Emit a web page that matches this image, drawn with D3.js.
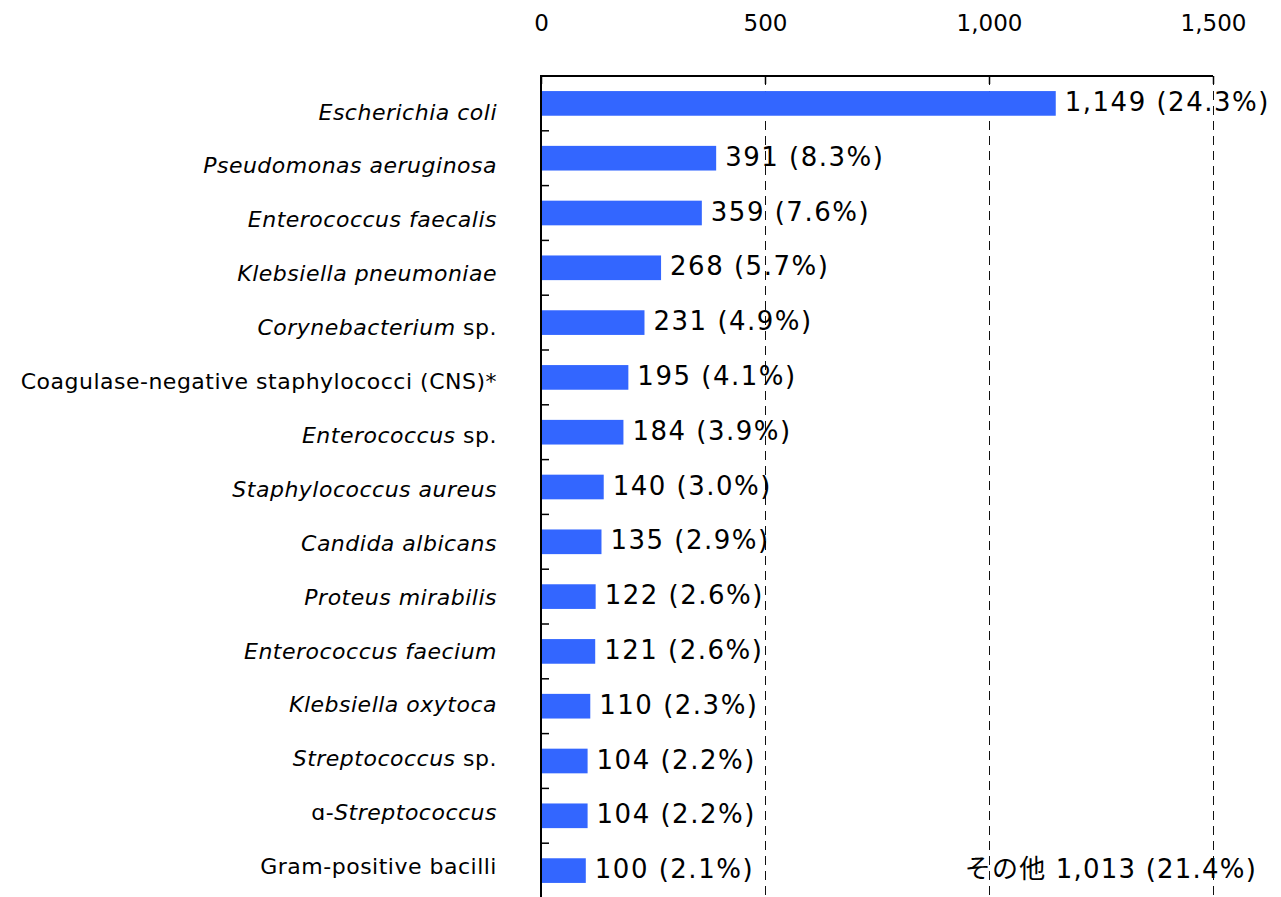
<!DOCTYPE html>
<html>
<head>
<meta charset="utf-8">
<script src="https://cdn.jsdelivr.net/npm/d3@7"></script>
<style>
  html, body { margin: 0; padding: 0; background: #fff; }
  svg { display: block; }
  text { font-family: "DejaVu Sans", "Noto Sans CJK JP", sans-serif; fill: #000; }
</style>
</head>
<body>
<svg id="chart" width="1281" height="897"></svg>
<script>
// ---- data ----
const categories = [
  "_Escherichia coli_",
  "_Pseudomonas aeruginosa_",
  "_Enterococcus faecalis_",
  "_Klebsiella pneumoniae_",
  "_Corynebacterium_ sp.",
  "Coagulase-negative staphylococci (CNS)*",
  "_Enterococcus_ sp.",
  "_Staphylococcus aureus_",
  "_Candida albicans_",
  "_Proteus mirabilis_",
  "_Enterococcus faecium_",
  "_Klebsiella oxytoca_",
  "_Streptococcus_ sp.",
  "ɑ-_Streptococcus_",
  "Gram-positive bacilli"
];
const counts = [1149, 391, 359, 268, 231, 195, 184, 140, 135, 122, 121, 110, 104, 104, 100];
const percents = [24.3, 8.3, 7.6, 5.7, 4.9, 4.1, 3.9, 3.0, 2.9, 2.6, 2.6, 2.3, 2.2, 2.2, 2.1];
const otherLabel = "その他";
const otherCount = 1013;
const otherPercent = 21.4;
const xTicks = [0, 500, 1000, 1500];

// ---- layout ----
const svg = d3.select("#chart");
const x0 = 541, x1 = 1213, yTop = 76, yBottom = 898;
const x = d3.scaleLinear().domain([0, 1500]).range([x0, x1]);
const idx = d3.range(categories.length);
const y = d3.scaleBand().domain(idx).range([yTop, yBottom]).paddingInner(0.55).paddingOuter(0.275);
const yLab = d3.scaleBand().domain(idx).range([84.8, 893.3]);
const fmt = d3.format(",");

// gridlines (dashed)
svg.append("g").selectAll("line").data(xTicks.filter(d => d > 0)).join("line")
  .attr("x1", d => x(d) + 0.5).attr("x2", d => x(d) + 0.5)
  .attr("y1", yTop).attr("y2", 897)
  .attr("stroke", "#111").attr("stroke-width", 1)
  .attr("stroke-dasharray", "9,6");

// bars
svg.append("g").selectAll("rect").data(idx).join("rect")
  .attr("x", x(0))
  .attr("y", i => y(i))
  .attr("width", i => x(counts[i]) - x(0))
  .attr("height", y.bandwidth())
  .attr("fill", "#3366FF");

// top border axis with inward ticks
const topAxis = svg.append("g").attr("transform", `translate(0,${yTop})`)
  .call(d3.axisTop(x).tickValues(xTicks).tickSize(-8).tickFormat(""));
topAxis.select(".domain").attr("stroke", "#000").attr("stroke-width", 2).attr("d", `M${x0},0H${x1}`);
topAxis.selectAll(".tick line").attr("stroke", "#000").attr("stroke-width", 1.5);

// top tick labels
const labAxis = svg.append("g").attr("transform", `translate(0,31)`)
  .call(d3.axisTop(x).tickValues(xTicks).tickSize(0).tickPadding(0).tickFormat(fmt));
labAxis.select(".domain").remove();
labAxis.selectAll("text")
  .attr("font-family", "DejaVu Sans").attr("font-size", 23)
  .attr("fill", "#000").attr("dy", 0);

// left axis line
svg.append("line").attr("x1", x0).attr("x2", x0).attr("y1", yTop - 1).attr("y2", 897)
  .attr("stroke", "#000").attr("stroke-width", 2);

// left ticks at band boundaries (pointing inward)
svg.append("g").selectAll("line").data(idx.slice(1)).join("line")
  .attr("x1", x0).attr("x2", x0 + 8)
  .attr("y1", i => y.step() * i + yTop).attr("y2", i => y.step() * i + yTop)
  .attr("stroke", "#000").attr("stroke-width", 1.5);

// category labels (with italic parts)
const labG = svg.append("g");
idx.forEach(i => {
  const t = labG.append("text")
    .attr("x", 497)
    .attr("y", yLab(i) + yLab.bandwidth() / 2 + 7.8)
    .attr("text-anchor", "end")
    .attr("font-size", 22)
    .style("letter-spacing", "0.5px")
    .attr("fill", "#111");
  const parts = categories[i].split("_");
  parts.forEach((p, k) => {
    if (!p) return;
    t.append("tspan").text(p).attr("font-style", k % 2 === 1 ? "italic" : "normal");
  });
});

// value labels
svg.append("g").selectAll("text").data(idx).join("text")
  .attr("x", i => x(counts[i]) + 9)
  .attr("y", i => y(i) + y.bandwidth() / 2 + 7.5)
  .attr("font-size", 26)
  .style("letter-spacing", "1.5px")
  .text(i => `${fmt(counts[i])} (${percents[i].toFixed(1)}%)`);

// "other" label
svg.append("text")
  .attr("x", 1257)
  .attr("y", y(categories.length - 1) + y.bandwidth() / 2 + 7.5)
  .attr("text-anchor", "end")
  .attr("font-size", 26)
  .style("letter-spacing", "1.2px")
  .text(`${otherLabel} ${fmt(otherCount)} (${otherPercent.toFixed(1)}%)`);
</script>
</body>
</html>
